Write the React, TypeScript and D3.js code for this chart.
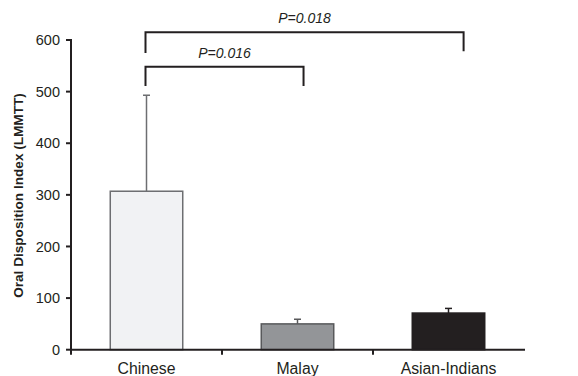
import React from "react";
import { scaleBand, scaleLinear } from "d3";

const categories = ["Chinese", "Malay", "Asian-Indians"];
const means = [307, 50, 71];
const errors = [186, 9, 9];
const yTicks = [0, 100, 200, 300, 400, 500, 600];

// significance brackets: from/to category, legs (data units), top (data units), label
const brackets = [
    { from: 0, to: 1, toShift: 0.04, legLeft: 511, legRight: 511, top: 548, label: "P=0.016" },
    { from: 0, to: 2, toShift: 0.1, legLeft: 575, legRight: 578, top: 615, label: "P=0.018" },
];

const fills = ["#f1f2f4", "#939598", "#231f20"];
const strokes = ["#6d6e71", "#58595b", "#231f20"];

const W = 578;
const H = 376;
const FONT = "'Liberation Sans', Arial, Helvetica, sans-serif";

export default function App() {
    const x = scaleBand<string>().domain(categories).range([71, 524]).padding(0);
    const y = scaleLinear().domain([0, 600]).range([349.7, 40]);
    const barW = x.bandwidth() * 0.48;
    const center = (i: number) => (x(categories[i]) ?? 0) + x.bandwidth() / 2;

    return (
        <svg
            width={W}
            height={H}
            style={{ position: "absolute", left: 0, top: 0, background: "#fff" }}
            fontFamily={FONT}
        >
            {/* Bars */}
            {categories.map((c, i) => (
                <g key={c}>
                    <line
                        x1={center(i)}
                        x2={center(i)}
                        y1={y(means[i])}
                        y2={y(means[i] + errors[i])}
                        stroke={strokes[i]}
                        strokeWidth={1.5}
                    />
                    <line
                        x1={center(i) - 3.5}
                        x2={center(i) + 3.5}
                        y1={y(means[i] + errors[i])}
                        y2={y(means[i] + errors[i])}
                        stroke={strokes[i]}
                        strokeWidth={1.5}
                    />
                    <rect
                        x={center(i) - barW / 2}
                        y={y(means[i])}
                        width={barW}
                        height={y(0) - y(means[i])}
                        fill={fills[i]}
                        stroke={strokes[i]}
                        strokeWidth={1.5}
                    />
                </g>
            ))}

            {/* Y axis */}
            <line x1={71} x2={71} y1={y(600) - 1} y2={y(0)} stroke="#231f20" strokeWidth={2} />
            {yTicks.map((t) => (
                <g key={t} transform={`translate(0,${y(t)})`}>
                    <line x1={66} x2={71} stroke="#231f20" strokeWidth={2} />
                    <text x={60} dy="0.36em" textAnchor="end" fontSize={14.5} fill="#231f20">
                        {t}
                    </text>
                </g>
            ))}
            <text
                transform="translate(22.5,195.5) rotate(-90)"
                textAnchor="middle"
                fontSize={13.6}
                fontWeight="bold"
                fill="#231f20"
            >
                Oral Disposition Index (LMMTT)
            </text>

            {/* X axis */}
            <line x1={70} x2={525} y1={y(0)} y2={y(0)} stroke="#231f20" strokeWidth={2} />
            {categories.map((c) => x(c) ?? 0).map((px, i) => (
                <line key={i} x1={px} x2={px} y1={y(0)} y2={y(0) + 5} stroke="#231f20" strokeWidth={2} />
            ))}
            {categories.map((c, i) => (
                <text key={c} x={center(i)} y={374} textAnchor="middle" fontSize={15.8} fill="#231f20">
                    {c}
                </text>
            ))}

            {/* Brackets */}
            {brackets.map((b) => {
                const x1 = center(b.from) - 1;
                const x2 = center(b.to) + b.toShift * x.bandwidth();
                return (
                    <g key={b.label}>
                        <path
                            d={`M${x1},${y(b.legLeft)}V${y(b.top)}H${x2}V${y(b.legRight)}`}
                            fill="none"
                            stroke="#231f20"
                            strokeWidth={2}
                        />
                        <text
                            x={(x1 + x2) / 2}
                            y={y(b.top) - 9}
                            textAnchor="middle"
                            fontSize={14}
                            fontStyle="italic"
                            fill="#231f20"
                        >
                            {b.label}
                        </text>
                    </g>
                );
            })}
        </svg>
    );
}
